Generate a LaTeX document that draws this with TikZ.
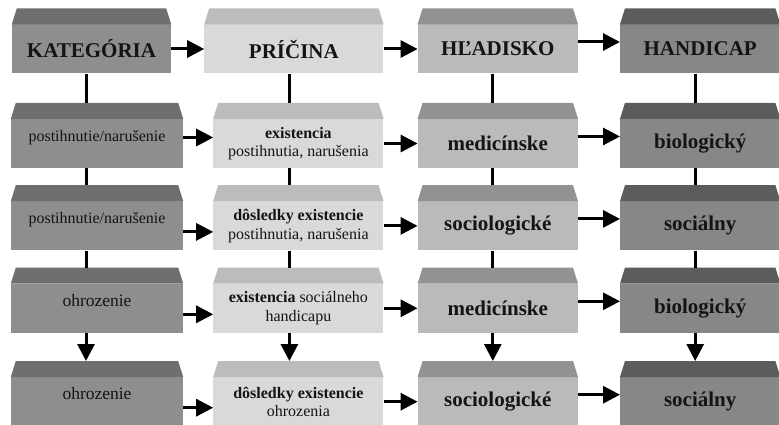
\documentclass[tikz,border=0pt]{standalone}
\usepackage{fontspec}
\setmainfont{Liberation Serif}
\usepackage{xcolor}
\usepackage{tikz}
\usetikzlibrary{arrows.meta,positioning,calc}
\definecolor{katfront}{HTML}{8E8E8E}
\definecolor{kattop}{HTML}{6F6F6F}
\definecolor{prifront}{HTML}{D9D9D9}
\definecolor{pritop}{HTML}{BCBCBC}
\definecolor{hlafront}{HTML}{BABABA}
\definecolor{hlatop}{HTML}{929292}
\definecolor{hanfront}{HTML}{878787}
\definecolor{hantop}{HTML}{5C5C5C}
\tikzset{
  box/.style={rectangle, align=center, minimum height=49pt, inner sep=2pt, text=black!92},
  head/.style={box, font=\fontsize{21}{23}\selectfont\bfseries, minimum width=160pt},
  katbox/.style={box, fill=katfront, minimum width=172pt, font=\fontsize{16}{18}\selectfont, text height=11pt, text depth=15pt},
  pribox/.style={box, fill=prifront, minimum width=170pt, font=\fontsize{16}{18.5}\selectfont},
  hlabox/.style={box, fill=hlafront, minimum width=160pt, font=\fontsize{21}{23}\selectfont\bfseries},
  hanbox/.style={box, fill=hanfront, minimum width=160pt, font=\fontsize{21}{23}\selectfont\bfseries},
  line/.style={-{Triangle[length=17pt,width=17pt]}, line width=3pt},
  link/.style={line width=3pt}
}
\begin{document}
\begin{tikzpicture}[x=1pt, y=-1pt]
  \useasboundingbox (0,0) rectangle (779,425);
  % header row
  \node[head, fill=katfront, minimum width=159pt] (kat0) at (91.5,49) {KATEGÓRIA};
  \node[head, fill=prifront, minimum width=179pt, right=33pt of kat0] (pri0) {PRÍČINA};
  \node[head, fill=hlafront, right=34pt of pri0] (hla0) {HĽADISKO};
  \node[head, fill=hanfront, right=42pt of hla0] (han0) {HANDICAP};
  % rows
  \node[katbox] (kat1) at (97,143.5) {postihnutie/narušenie};
  \node[katbox, below=33pt of kat1] (kat2) {postihnutie/narušenie};
  \node[katbox, below=33pt of kat2, font=\fontsize{17.5}{20}\selectfont] (kat3) {ohrozenie};
  \node[katbox, below=44pt of kat3, font=\fontsize{17.5}{20}\selectfont] (kat4) {ohrozenie};
  \node[pribox, right=30pt of kat1] (pri1) {\textbf{existencia}\\postihnutia, narušenia};
  \node[pribox, right=30pt of kat2] (pri2) {\textbf{dôsledky existencie}\\postihnutia, narušenia};
  \node[pribox, right=30pt of kat3] (pri3) {\textbf{existencia} sociálneho\\handicapu};
  \node[pribox, right=30pt of kat4] (pri4) {\textbf{dôsledky existencie}\\ohrozenia};
  \node[hlabox, right=34pt of pri1] (hla1) {medicínske};
  \node[hlabox, right=34pt of pri2] (hla2) {sociologické};
  \node[hlabox, right=34pt of pri3] (hla3) {medicínske};
  \node[hlabox, right=34pt of pri4] (hla4) {sociologické};
  \node[hanbox, right=42pt of hla1] (han1) {biologický};
  \node[hanbox, right=42pt of hla2] (han2) {sociálny};
  \node[hanbox, right=42pt of hla3] (han3) {biologický};
  \node[hanbox, right=42pt of hla4] (han4) {sociálny};
  % top faces of the boxes
  \foreach \col/\shade in {kat/kattop, pri/pritop, hla/hlatop, han/hantop}
    \foreach \row in {0,...,4}
      \fill[\shade] (\col\row.north west) -- ([shift={(5pt,16pt)}]\col\row.north west)
        -- ([shift={(-5pt,16pt)}]\col\row.north east) -- (\col\row.north east) -- cycle;
  % arrows to the right
  \draw[line] (kat0) -- (pri0);
  \draw[line] (pri0) -- (hla0);
  \draw[line] ([yshift=7pt]hla0.east) -- ([yshift=7pt]han0.west);
  \draw[line] ([yshift=6pt]kat1.east) -- ([yshift=6pt]pri1.west);
  \foreach \row in {2,3,4}
    \draw[line] ([yshift=-6pt]kat\row.east) -- ([yshift=-6pt]pri\row.west);
  \foreach \row in {1,...,4} {
    \draw[line] (pri\row) -- (hla\row);
    \draw[line] ([yshift=7pt]hla\row.east) -- ([yshift=7pt]han\row.west);
  }
  % links down the columns
  \draw[link] ([xshift=-5.5pt]kat0.south) -- ([xshift=-11pt,yshift=16pt]kat1.north);
  \draw[link] ([xshift=-4.5pt]pri0.south) -- ([xshift=-9pt,yshift=16pt]pri1.north);
  \draw[link] ([xshift=-5pt]hla0.south) -- ([xshift=-5pt,yshift=16pt]hla1.north);
  \draw[link] ([xshift=-5pt]han0.south) -- ([xshift=-5pt,yshift=16pt]han1.north);
  \foreach \row/\next in {1/2, 2/3} {
    \draw[link] ([xshift=-11pt]kat\row.south) -- ([xshift=-11pt,yshift=16pt]kat\next.north);
    \draw[link] ([xshift=-9pt]pri\row.south) -- ([xshift=-9pt,yshift=16pt]pri\next.north);
    \draw[link] ([xshift=-5pt]hla\row.south) -- ([xshift=-5pt,yshift=16pt]hla\next.north);
    \draw[link] ([xshift=-5pt]han\row.south) -- ([xshift=-5pt,yshift=16pt]han\next.north);
  }
  \draw[line] ([xshift=-11pt]kat3.south) -- ([xshift=-11pt,yshift=16pt]kat4.north);
  \draw[line] ([xshift=-9pt]pri3.south) -- ([xshift=-9pt,yshift=16pt]pri4.north);
  \draw[line] ([xshift=-5pt]hla3.south) -- ([xshift=-5pt,yshift=16pt]hla4.north);
  \draw[line] ([xshift=-5pt]han3.south) -- ([xshift=-5pt,yshift=16pt]han4.north);
\end{tikzpicture}
\end{document}
